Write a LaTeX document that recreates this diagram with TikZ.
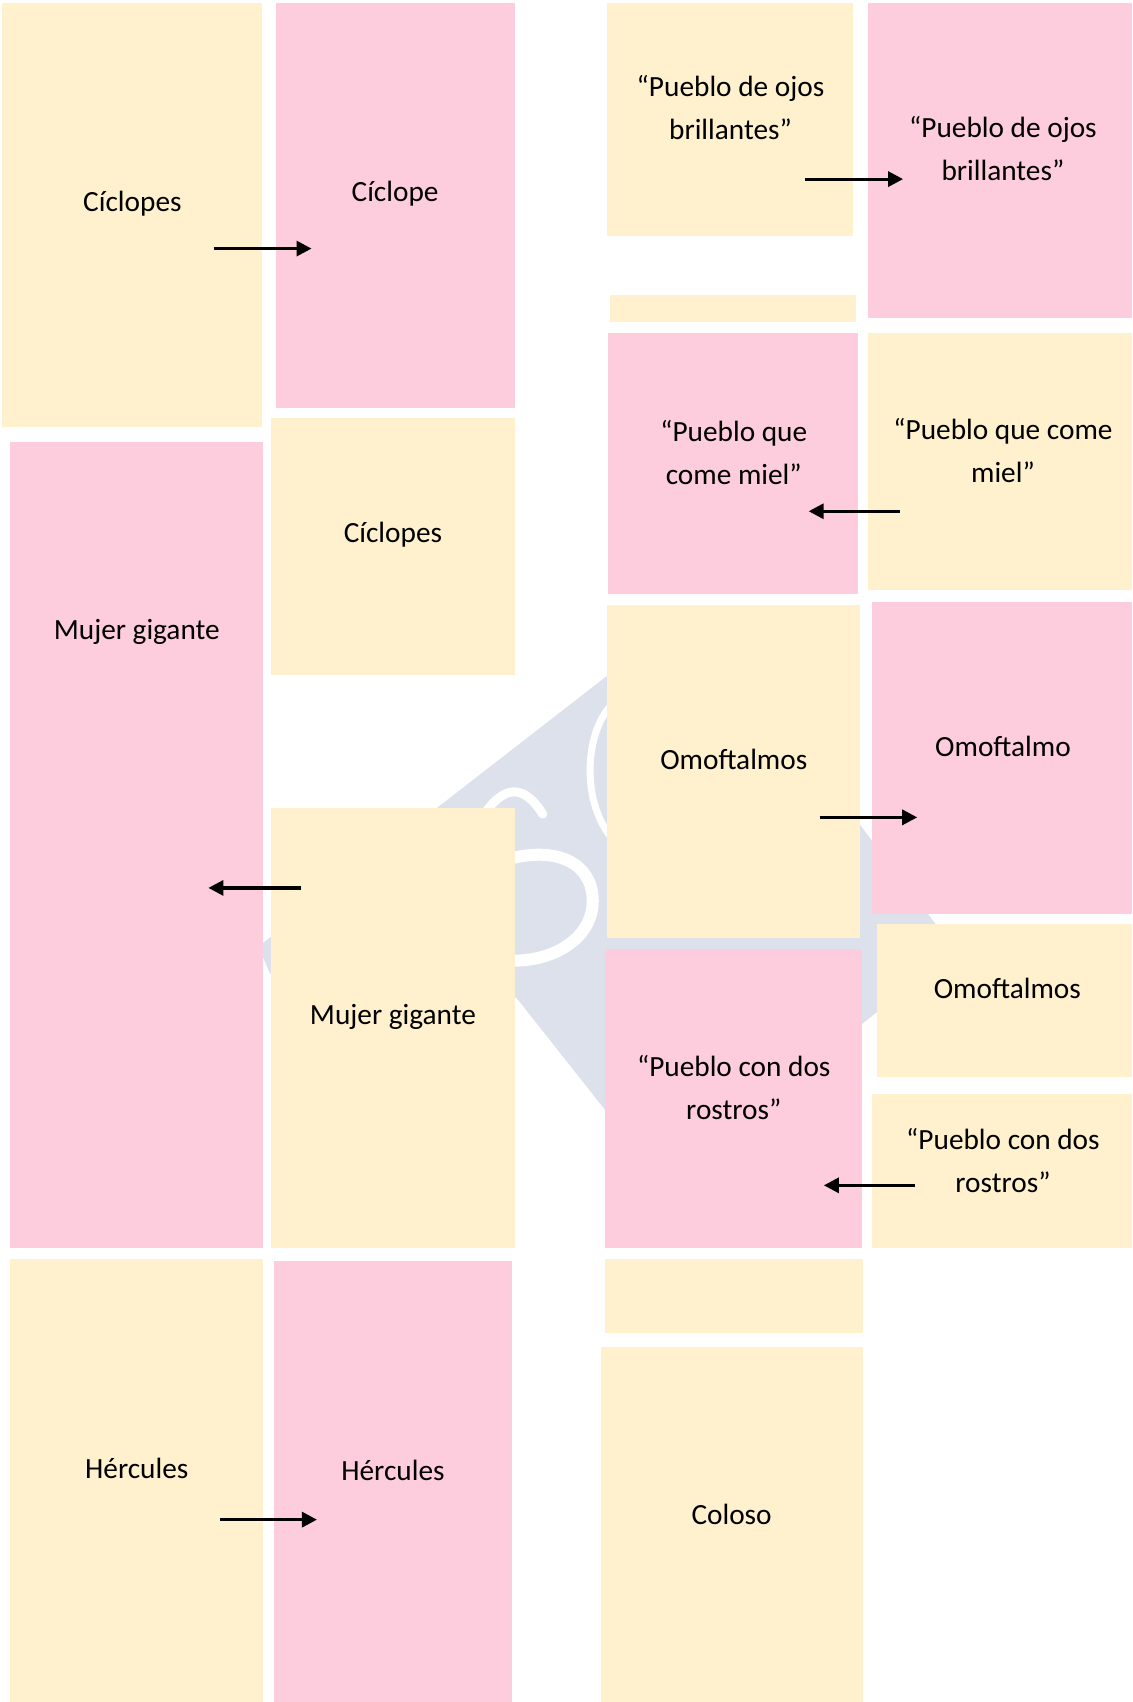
\documentclass[tikz,border=0pt]{standalone}
\usepackage{fontspec}
\setmainfont{Carlito}
\usetikzlibrary{arrows.meta, positioning, fit}
\definecolor{cyellow}{HTML}{FFF1CD}
\definecolor{cpink}{HTML}{FDCCDD}
\definecolor{cmark}{HTML}{DDE1EC}
\tikzset{
  every picture/.style={line width=1.2pt},
  card/.style={fill=#1, draw=none, inner sep=0pt, outer sep=0pt},
  word/.style={font=\fontsize{29.3}{43.4}\selectfont, align=center, inner sep=0pt},
  arrow/.style={-{Triangle[length=15pt, width=15pt]}, draw=black, line width=3.2pt},
  markline/.style={draw=white, line width=#1, line cap=round},
}

\begin{document}
\begin{tikzpicture}[x=1.0853pt, y=-1.0853pt]
  \useasboundingbox (0,0) rectangle (1043,1568);
  % faint watermark behind the cards
  \fill[cmark, rounded corners=6pt] (238,872) -- (640,560) -- (880,875) -- (610,1090)
    -- (557,1022) -- (474,917) -- (400,900) -- (250,900) -- cycle;
  \draw[markline=12pt] (474,790) .. controls (520,780) and (548,800) .. (546,833)
    .. controls (544,865) and (510,885) .. (474,885);
  \draw[markline=9pt] (440,760) .. controls (460,725) and (480,718) .. (500,750);
  \draw[markline=7pt] (562,651) .. controls (540,675) and (535,735) .. (562,770);
  % cards: name/colour/corners
  \foreach \n/\c/\xa/\ya/\xb/\yb in {A/cyellow/2/3/241/393, B/cpink/254/3/474/376,
      C/cyellow/250/385/474/622, D/cpink/9/407/242/1150, E/cyellow/250/744/474/1150,
      F/cyellow/9/1160/242/1568, G/cpink/252/1162/472/1568,
      H/cyellow/559/3/786/217, I/cpink/800/3/1043/293, J/cyellow/562/272/789/297,
      K/cpink/560/307/790/547, L/cyellow/800/307/1043/544,
      M/cyellow/559/557/792/864, N/cpink/803/555/1043/842, O/cyellow/808/851/1043/992,
      P/cpink/557/874/794/1150, Q/cyellow/803/1008/1043/1150,
      R/cyellow/557/1160/795/1228, S/cyellow/554/1241/795/1568}
    \node[card=\c, fit={(\xa,\ya) (\xb,\yb)}] (\n) {};
  % labels
  \foreach \n/\x/\y/\t in {A/122/188/Cíclopes, B/364/178/Cíclope, C/362/493/Cíclopes,
      D/126/582/Mujer gigante, E/362/937/Mujer gigante, F/126/1353/Hércules, G/362/1355/Hércules,
      H/673/99/{“Pueblo de ojos\\brillantes”}, I/924/137/{“Pueblo de ojos\\brillantes”},
      K/676/417/{“Pueblo que\\come miel”}, L/924/415/{“Pueblo que come\\miel”},
      M/676/700/Omoftalmos, N/924/688/Omoftalmo, O/928/911/Omoftalmos,
      P/676/1002/{“Pueblo con dos\\rostros”}, Q/924/1069/{“Pueblo con dos\\rostros”},
      S/674/1395/Coloso}
    \node[word] (t\n) at (\x,\y) {\t};
  % arrows between paired cards
  \foreach \i/\xa/\xb/\y in {1/197/287/229, 2/277/192/818, 3/203/292/1400, 4/742/832/165,
      5/829/745/471, 6/755/845/753, 7/843/759/1092} {
    \coordinate (s\i) at (\xa,\y);
    \coordinate (e\i) at (\xb,\y);
    \draw[arrow] (s\i) -- (e\i);
  }
\end{tikzpicture}
\end{document}
